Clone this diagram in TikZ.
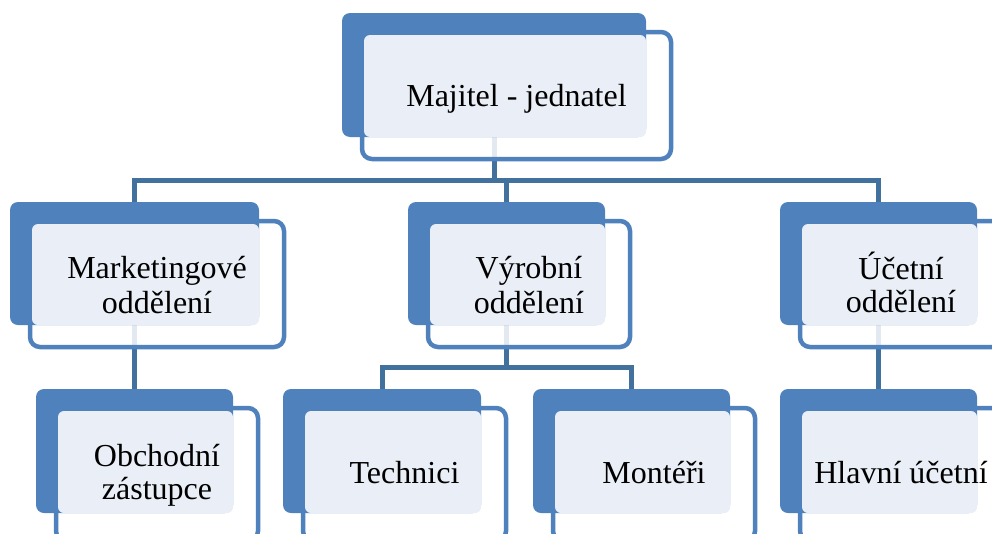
\documentclass[tikz,border=0pt]{standalone}
\usepackage{fontspec}
\setmainfont{Liberation Serif}
\usetikzlibrary{backgrounds,fit}
\definecolor{bblue}{HTML}{4F81BD}
\definecolor{cblue}{HTML}{41719C}
\definecolor{lblue}{HTML}{EAEFF7}
\newcommand\lnst{\rule[-5.5pt]{0pt}{33pt}}
\newcommand\obot{22}
\tikzset{
  bluebox/.style={fill=bblue, rounded corners=8pt},
  outbox/.style={draw=bblue, line width=4.5pt, fill=white, fill opacity=0.85, rounded corners=10pt},
  lightbox/.style={fill=lblue, rounded corners=6pt},
  boxtext/.style={align=center, font=\fontsize{32}{33}\selectfont, inner sep=0pt, text=black},
  anchorbox/.style={inner sep=0pt, outer sep=0pt},
  conn/.style={draw=cblue, line width=5pt},
}
\newcommand\orgbox[6]{%
  \path[outbox] (#2+20,#3+19) rectangle (#4+25,#5+\obot);
  \path[bluebox] (#2,#3) rectangle (#4,#5);
  \path[lightbox] (#2+22,#3+22) rectangle (#4,#5);
  \node[anchorbox, fit={(#2,#3) (#4,#5)}] (#1) {};
  \node[boxtext] (#1-t) at ({(#2+#4)/2+22.5},{(#3+#5)/2+21.5}) {#6};
}
\begin{document}
\begin{tikzpicture}[x=1pt,y=-1pt]
\useasboundingbox (0,0) rectangle (992,533);
\clip (0,0) rectangle (992,533);
\orgbox{top}{342}{13}{646}{137}{\lnst Majitel - jednatel}
\orgbox{mkt}{10}{202}{259}{325}{\lnst Marketingové\\\lnst oddělení}
\orgbox{vyr}{408}{202}{605}{325}{\lnst Výrobní\\\lnst oddělení}
\orgbox{uct}{780}{202}{977}{325}{\lnst Účetní\\\lnst oddělení}
\renewcommand\obot{28}
\orgbox{obch}{36}{389}{233}{513}{\lnst Obchodní\\\lnst zástupce}
\orgbox{tech}{283}{389}{481}{513}{\lnst Technici}
\orgbox{mont}{533}{389}{730}{513}{\lnst Montéři}
\orgbox{hlav}{780}{389}{977}{513}{\lnst Hlavní účetní}
\begin{scope}[on background layer]
  \coordinate (bus1) at (494,180);
  \draw[conn] (top.south) -- (bus1);
  \draw[conn] (mkt.north) |- (bus1) -| (uct.north);
  \draw[conn] (vyr.north) -- (vyr.north |- bus1);
  \draw[conn] (mkt.south) -- (obch.north);
  \coordinate (bus2) at (506.5,367);
  \draw[conn] (vyr.south) -- (bus2);
  \draw[conn] (tech.north) |- (bus2) -| (mont.north);
  \draw[conn] (uct.south) -- (hlav.north);
\end{scope}
\end{tikzpicture}
\end{document}
